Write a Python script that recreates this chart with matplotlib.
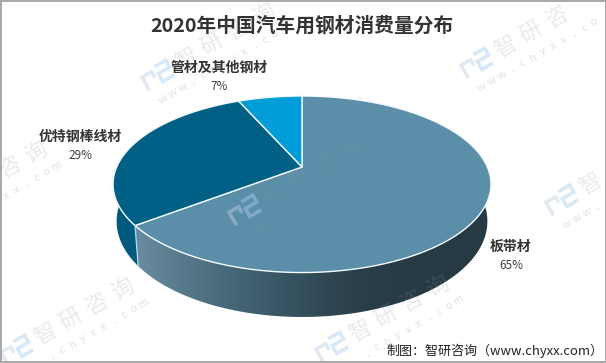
import numpy as np
import matplotlib
matplotlib.use('Agg')
import matplotlib.pyplot as plt
from matplotlib.colors import LinearSegmentedColormap
from matplotlib.patches import Polygon, Rectangle

plt.rcParams['font.family'] = ['Noto Sans CJK SC', 'DejaVu Sans']

title = '2020年中国汽车用钢材消费量分布'
source = '制图：智研咨询（www.chyxx.com）'
# clockwise from 12 o'clock
categories = ['板带材', '优特钢棒线材', '管材及其他钢材']
values = [64.6, 28.8, 6.6]
shown = ['65%', '29%', '7%']
top_colors = ['#5b8ea9', '#005f85', '#009dd9']
label_xy = [(511, 247), (80, 137), (219, 68)]
# watermark anchor = logo centre
marks = [(158, 75), (477, 63), (245, 210), (562, 200), (-70, 213), (17, 350), (332, 347)]
mark_name = '智研咨询'
mark_site = 'www.chyxx.com'

fig, ax = plt.subplots(figsize=(6.06, 3.63), dpi=100)
fig.subplots_adjust(0, 0, 1, 1)
ax.axis('off')


# perspective projection of the round disc
def project(t, cx, cy, a, c, b=0.1955):
    u, v = np.sin(t), np.cos(t)
    return cx + a * u / (1 + b * v), cy - c * v / (1 + b * v)


def rim(t):
    return project(t, 302, 167, 185.3, 84.9)


def base(t):
    return project(t, 302, 202.6, 181.8, 92)


def wall(t0, t1):
    ts = np.linspace(t0, t1, 300)
    xa, ya = rim(ts)
    xb, yb = base(ts[::-1])
    return np.column_stack([np.r_[xa, xb], np.r_[ya, yb]])


edges = np.cumsum([0] + values) / sum(values) * 2 * np.pi

# side wall, the big slice has a gradient
side_main = LinearSegmentedColormap.from_list('side', ['#688b9f', '#4d6f80', '#385564', '#2a3f4a', '#263a44'])
xs = np.linspace(100, 500, 400)
grad = side_main(np.clip((xs - 137) / 290, 0, 1))[np.newaxis, :, :]
im = ax.imshow(grad, extent=(100, 500, 330, 100), aspect='auto', zorder=2, interpolation='bilinear')
clip = Polygon(wall(edges[0], edges[1]), closed=True, transform=ax.transData, facecolor='none', edgecolor='none')
ax.add_patch(clip)
im.set_clip_path(clip)
ax.add_patch(Polygon(wall(edges[1], edges[2]), closed=True, facecolor='#005a7e', edgecolor='none', zorder=2))

# top of the pie
for i in range(len(values)):
    ts = np.linspace(edges[i], edges[i + 1], 200)
    x, y = rim(ts)
    ax.fill(np.r_[302, x], np.r_[167, y], facecolor=top_colors[i], edgecolor='#f4fbff', lw=1.0, zorder=3)

# light seam on the wall
x0, y0 = rim(edges[1])
x1, y1 = base(edges[1])
ax.plot([x0, x1], [y0, y1], color='#a9dff2', lw=0.9, zorder=3)

for name, pct, (x, y) in zip(categories, shown, label_xy):
    ax.text(x, y, name, ha='center', va='center', fontsize=10, fontweight='bold', color='#333333', zorder=6)
    ax.text(x, y + 18.5, pct, ha='center', va='center', fontsize=8.5, color='#404040', zorder=6)

ax.text(302, 26, title, ha='center', va='center', fontsize=14.2, fontweight='bold', color='#333333', zorder=6)
ax.text(603, 351, source, ha='right', va='center', fontsize=9.4, color='#222222', zorder=6)


# one rotated char, skipped when it falls outside the picture
def mark_char(x, y, s, size, col, alpha):
    if 6 < x < 600 and 6 < y < 357:
        ax.text(x, y, s, rotation=30, rotation_mode='anchor', ha='center', va='center', fontsize=size,
                color=col, alpha=alpha, zorder=5, clip_on=True)


for mx, my in marks:
    for k, ch in enumerate(mark_name):
        mark_char(mx + 28 + 26 * k, my - 16 - 15 * k, ch, 16, '#8c97a3', 0.2)
    for k, ch in enumerate(mark_site):
        mark_char(mx + 5 + 10.2 * k, my + 24 - 5.9 * k, ch, 8, '#8c97a3', 0.28)
    # logo, two thick bent strokes
    ca, sa = np.cos(np.deg2rad(30)), np.sin(np.deg2rad(30))
    for px, py, col in [([-15, -15, -4, -4], [9, -6, -6, 1], '#c3cfe2'),
                        ([1, 14, 14, 1, 1, 14], [-9, -9, -1, -1, 8, 8], '#a9cdec')]:
        px, py = np.array(px), np.array(py)
        ax.plot(mx + px * ca + py * sa, my - px * sa + py * ca, color=col, lw=2.6, alpha=0.45,
                solid_joinstyle='miter', solid_capstyle='butt', zorder=5)

# grey frame of the picture
ax.add_patch(Rectangle((0.5, 0.5), 605, 361, facecolor='none', edgecolor='#a8a8a8', lw=1.4, zorder=7))

ax.set_xlim(0, 606)
ax.set_ylim(363, 0)

fig.savefig('out.png', dpi=100)
